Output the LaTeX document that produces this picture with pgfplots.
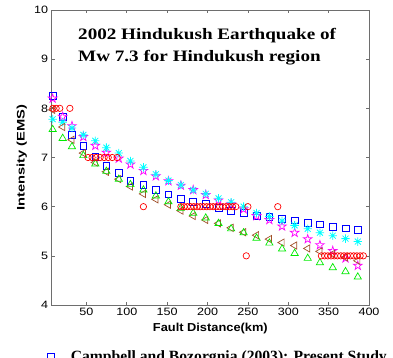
\documentclass[border=0pt]{standalone}
\usepackage{fontspec}
\setmainfont{Liberation Serif}
\setsansfont{Liberation Sans}
\usepackage{graphicx}
\usepackage{pgfplots}
\pgfplotsset{compat=1.18}
\usetikzlibrary{plotmarks}

\pgfdeclareplotmark{pentagram}{%
  \pgfpathmoveto{\pgfpointpolar{90}{\pgfplotmarksize}}%
  \pgfpathlineto{\pgfpointpolar{126}{0.382\pgfplotmarksize}}%
  \pgfpathlineto{\pgfpointpolar{162}{\pgfplotmarksize}}%
  \pgfpathlineto{\pgfpointpolar{198}{0.382\pgfplotmarksize}}%
  \pgfpathlineto{\pgfpointpolar{234}{\pgfplotmarksize}}%
  \pgfpathlineto{\pgfpointpolar{270}{0.382\pgfplotmarksize}}%
  \pgfpathlineto{\pgfpointpolar{306}{\pgfplotmarksize}}%
  \pgfpathlineto{\pgfpointpolar{342}{0.382\pgfplotmarksize}}%
  \pgfpathlineto{\pgfpointpolar{18}{\pgfplotmarksize}}%
  \pgfpathlineto{\pgfpointpolar{54}{0.382\pgfplotmarksize}}%
  \pgfpathclose\pgfusepathqstroke}
\pgfdeclareplotmark{ast8}{%
  \pgfpathmoveto{\pgfpointpolar{0}{\pgfplotmarksize}}\pgfpathlineto{\pgfpointpolar{180}{\pgfplotmarksize}}%
  \pgfpathmoveto{\pgfpointpolar{45}{\pgfplotmarksize}}\pgfpathlineto{\pgfpointpolar{225}{\pgfplotmarksize}}%
  \pgfpathmoveto{\pgfpointpolar{90}{\pgfplotmarksize}}\pgfpathlineto{\pgfpointpolar{270}{\pgfplotmarksize}}%
  \pgfpathmoveto{\pgfpointpolar{135}{\pgfplotmarksize}}\pgfpathlineto{\pgfpointpolar{315}{\pgfplotmarksize}}%
  \pgfusepathqstroke}

\definecolor{mblue}{RGB}{0,0,255}
\definecolor{mmag}{RGB}{255,0,255}
\definecolor{mcyan}{RGB}{0,255,255}
\definecolor{mbrown}{RGB}{160,80,40}
\definecolor{mgreen}{RGB}{0,235,0}
\definecolor{mred}{RGB}{255,0,0}
\definecolor{axgray}{RGB}{110,110,110}

\pgfplotstableread{
x sq mag cy br gr
8.2 8.25 8.20 7.78 7.97 7.57
20.6 7.83 7.83 7.72 7.62 7.39
32.1 7.46 7.64 7.60 7.36 7.22
46.2 7.24 7.42 7.46 7.09 7.04
61.0 7.02 7.24 7.34 6.90 6.87
74.7 6.83 7.10 7.20 6.71 6.72
90.1 6.69 6.98 7.09 6.56 6.56
104.5 6.53 6.86 6.93 6.41 6.45
120.6 6.44 6.73 6.80 6.26 6.34
136.0 6.34 6.62 6.66 6.15 6.22
151.6 6.25 6.52 6.53 6.04 6.10
167.0 6.16 6.43 6.44 5.92 5.97
182.3 6.10 6.34 6.34 5.81 5.87
197.8 6.05 6.24 6.26 5.73 5.77
213.6 5.97 6.13 6.17 5.66 5.66
229.2 5.92 6.05 6.09 5.57 5.55
244.7 5.88 5.95 6.00 5.48 5.47
260.7 5.82 5.81 5.87 5.42 5.36
276.6 5.79 5.73 5.80 5.34 5.26
292.3 5.75 5.60 5.71 5.27 5.14
307.9 5.72 5.47 5.62 5.21 5.05
324.1 5.67 5.34 5.55 5.15 4.95
339.2 5.64 5.22 5.47 5.09 4.86
355.1 5.59 5.10 5.41 5.04 4.76
370.9 5.56 4.95 5.35 4.97 4.68
386.1 5.53 4.80 5.29 4.90 4.57
}\model

\pgfplotstableread{
x y
8.5 8
12.5 8
17 8
29.5 8
52 7
57 7
62 7
67 7
72 7
77 7
82 7
88 7
120.6 6
167 6
171 6
175 6
179 6
183 6
187 6
191 6
195 6
199 6
203 6
207 6
211 6
215 6
219 6
223 6
227 6
231 6
235 6
250 6
287 6
248 5
341 5
345 5
349 5
353 5
357 5
361 5
365 5
369 5
373 5
377 5
381 5
385 5
389 5
393 5
}\obs

\begin{document}
\begin{tikzpicture}
\begin{axis}[
  at={(0,0)}, anchor=south west,
  scale only axis, width=317.3bp, height=295bp,
  xmin=7, xmax=400, ymin=4, ymax=10,
  xtick={50,100,...,400}, ytick={4,5,...,10},
  tick align=inside, major tick length=3bp,
  axis line style={axgray, line width=0.8pt},
  tick style={axgray, line width=0.6pt},
  ticklabel style={font=\fontsize{10.7}{12}\selectfont\sffamily},
  /pgf/number format/assume math mode=true,
  xticklabel={\scalebox{1.18}[1]{\pgfmathprintnumber{\tick}}},
  yticklabel={\scalebox{1.18}[1]{\pgfmathprintnumber{\tick}}},
  xlabel={\scalebox{1.11}[1]{Fault Distance(km)}},
  ylabel={\scalebox{1.34}[1]{Intensity (EMS)}},
  xlabel style={font=\fontsize{11.6}{13}\selectfont\sffamily\bfseries, at={(axis description cs:0.5,-0.0905)}, anchor=base},
  ylabel style={font=\fontsize{11}{13}\selectfont\sffamily\bfseries, at={(axis description cs:-0.0945,0.5)}, anchor=center},
  clip=false,
  legend style={at={(axis description cs:-0.03,-0.176)}, anchor=west, draw=none, fill=none,
    font=\fontsize{15.7}{19}\selectfont\bfseries, inner sep=0pt, nodes={inner sep=0pt}},
  legend image code/.code={\draw[#1] plot coordinates {(8.5bp,0bp)}; \path (0bp,0bp) (28bp,0bp);},
]
\addplot[only marks, mark=square, mark size=3.4pt, mark options={draw=mblue, line width=0.7pt}] table[x=x,y=sq] {\model};
\addlegendentry{Campbell and Bozorgnia (2003): Present Study}
\addplot[only marks, mark=pentagram, mark size=4.6pt, mark options={draw=mmag, line width=0.7pt}, forget plot] table[x=x,y=mag] {\model};
\addplot[only marks, mark=ast8, mark size=4.2pt, mark options={draw=mcyan, line width=0.8pt}, forget plot] table[x=x,y=cy] {\model};
\addplot[only marks, mark=triangle, mark size=4.2pt, mark options={draw=mbrown, line width=0.7pt, rotate=90}, forget plot] table[x=x,y=br] {\model};
\addplot[only marks, mark=triangle, mark size=4.2pt, mark options={draw=mgreen, line width=0.7pt}, forget plot] table[x=x,y=gr] {\model};
\addplot[only marks, mark=o, mark size=3.2pt, mark options={draw=mred, line width=0.7pt}, forget plot] table[x=x,y=y] {\obs};
\node[anchor=base west, inner sep=0pt, font=\fontsize{16}{19}\selectfont\bfseries] at (rel axis cs:0.0829,0.9007) {\scalebox{1.2}[1]{2002 Hindukush Earthquake of}};
\node[anchor=base west, inner sep=0pt, font=\fontsize{16}{19}\selectfont\bfseries] at (rel axis cs:0.0829,0.8247) {\scalebox{1.2}[1]{Mw 7.3 for Hindukush region}};
\end{axis}
\pgfresetboundingbox
\path[use as bounding box] (-51.7bp,-53bp) rectangle (341.3bp,305bp);
\end{tikzpicture}
\end{document}
